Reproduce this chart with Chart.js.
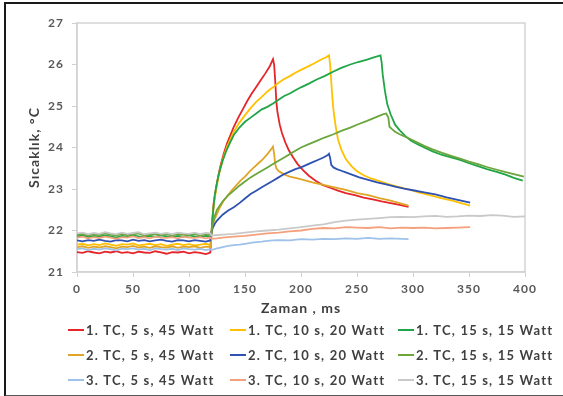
<!DOCTYPE html>
<html>
<head>
<meta charset="utf-8">
<script src="https://cdn.jsdelivr.net/npm/chart.js@4.4.1/dist/chart.umd.min.js"></script>
<style>
  html, body { margin: 0; padding: 0; background: #fff; overflow: hidden; }
  #wrap { position: relative; width: 563px; height: 396px; }
  #frame { position: absolute; left: 4px; top: 2px; width: 620px; height: 391px;
           border-left: 2px solid #1a1a1a; border-top: 2px solid #1a1a1a; border-bottom: 2px solid #555; pointer-events: none; }
</style>
</head>
<body>
<div id="wrap">
  <canvas id="c" width="563" height="396"></canvas>
  <div id="frame"></div>
</div>
<script>
// time base for the pre-heating baseline (ms)
const tBase = [0,5,10,15,20,25,30,35,40,45,50,55,60,65,70,75,80,85,90,95,100,105,110,115,119];

const labels = [
  "1. TC, 5 s, 45 Watt", "1. TC, 10 s, 20 Watt", "1. TC, 15 s, 15 Watt",
  "2. TC, 5 s, 45 Watt", "2. TC, 10 s, 20 Watt", "2. TC, 15 s, 15 Watt",
  "3. TC, 5 s, 45 Watt", "3. TC, 10 s, 20 Watt", "3. TC, 15 s, 15 Watt"
];
const colors = ["#e5252a", "#ffc000", "#21a546", "#e0a526", "#2e52b2", "#6aa63c", "#9ec2ea", "#f5a07c", "#c9c9c9"];

// 1. TC, 5 s, 45 W
const base1_5 = [21.48,21.46,21.5,21.47,21.45,21.49,21.47,21.5,21.46,21.48,21.45,21.49,21.47,21.46,21.5,21.47,21.44,21.48,21.47,21.49,21.45,21.48,21.46,21.43,21.47];
const t1_5 = [120,121,122,124,126,128,131,134,137,140,144,148,152,156,160,164,168,172,175,176,177,178,179,181,183,186,189,193,197,202,207,213,219,226,233,240,248,256,264,272,280,288,296];
const v1_5 = [21.9,22.3,22.65,23.0,23.3,23.55,23.85,24.1,24.3,24.5,24.72,24.92,25.12,25.3,25.46,25.62,25.78,25.95,26.13,26.0,25.6,25.1,24.85,24.55,24.35,24.12,23.94,23.76,23.6,23.45,23.32,23.2,23.1,23.03,22.96,22.9,22.85,22.79,22.75,22.7,22.66,22.62,22.57];

// 1. TC, 10 s, 20 W
const base1_10 = [21.66,21.68,21.64,21.67,21.65,21.69,21.66,21.63,21.67,21.66,21.69,21.64,21.66,21.68,21.65,21.67,21.63,21.66,21.68,21.65,21.67,21.64,21.66,21.68,21.65];
const t1_10 = [120,121,122,124,126,128,131,134,137,140,145,150,155,160,165,170,175,180,185,190,195,200,206,212,218,222,225,226,227,228,229,231,233,236,240,245,250,256,262,270,278,286,295,305,315,325,335,343,351];
const v1_10 = [21.9,22.3,22.6,22.95,23.25,23.5,23.78,24.02,24.2,24.38,24.6,24.78,24.95,25.1,25.22,25.35,25.45,25.56,25.65,25.72,25.8,25.87,25.95,26.03,26.12,26.17,26.22,26.0,25.6,25.2,24.9,24.5,24.2,23.95,23.72,23.55,23.43,23.33,23.26,23.19,23.12,23.06,23.0,22.92,22.85,22.78,22.72,22.66,22.6];

// 1. TC, 15 s, 15 W
const base1_15 = [21.86,21.88,21.84,21.87,21.85,21.88,21.86,21.83,21.87,21.85,21.88,21.86,21.84,21.87,21.85,21.88,21.86,21.84,21.87,21.85,21.88,21.86,21.84,21.87,21.86];
const t1_15 = [120,121,122,123,125,127,130,133,136,140,145,150,155,160,165,170,175,180,185,190,195,200,207,214,221,229,236,244,251,259,265,271,272,273,275,277,280,284,288,293,298,304,310,318,326,334,342,350,358,366,374,382,390,398];
const v1_15 = [21.9,22.3,22.6,22.85,23.15,23.4,23.68,23.9,24.08,24.3,24.48,24.62,24.72,24.82,24.92,24.98,25.06,25.15,25.24,25.3,25.38,25.45,25.54,25.64,25.72,25.83,25.92,26.0,26.06,26.12,26.17,26.22,26.05,25.75,25.35,25.05,24.8,24.55,24.42,24.28,24.17,24.08,24.0,23.9,23.82,23.76,23.7,23.62,23.55,23.48,23.42,23.35,23.27,23.2];

// 2. TC, 5 s, 45 W
const base2_5 = [21.6,21.62,21.58,21.61,21.59,21.62,21.6,21.57,21.61,21.6,21.63,21.59,21.61,21.58,21.62,21.6,21.59,21.62,21.58,21.61,21.6,21.62,21.58,21.61,21.6];
const t2_5 = [120,121,123,125,128,131,134,138,142,146,150,154,158,162,166,170,174,175,176,177,178,180,182,185,190,196,202,210,220,230,240,250,260,270,280,288,296];
const v2_5 = [21.9,22.1,22.28,22.4,22.58,22.72,22.82,22.96,23.08,23.2,23.3,23.42,23.52,23.62,23.72,23.84,23.98,24.02,23.85,23.6,23.5,23.43,23.4,23.35,23.3,23.26,23.22,23.16,23.1,23.04,22.98,22.9,22.85,22.78,22.72,22.66,22.6];

// 2. TC, 10 s, 20 W
const base2_10 = [21.76,21.74,21.77,21.75,21.78,21.75,21.73,21.77,21.76,21.74,21.78,21.75,21.77,21.74,21.76,21.78,21.75,21.73,21.77,21.76,21.74,21.77,21.75,21.73,21.76];
const t2_10 = [120,121,123,125,130,135,140,145,150,155,160,165,170,175,180,185,190,195,200,205,210,215,220,224,225,226,227,229,232,236,240,246,252,260,268,276,284,292,300,310,320,330,340,351];
const v2_10 = [21.95,22.05,22.16,22.24,22.38,22.48,22.56,22.66,22.77,22.88,22.96,23.04,23.12,23.2,23.28,23.36,23.42,23.48,23.52,23.58,23.64,23.7,23.76,23.82,23.85,23.75,23.58,23.52,23.48,23.44,23.4,23.34,23.28,23.22,23.16,23.11,23.06,23.01,22.97,22.92,22.87,22.8,22.74,22.67];

// 2. TC, 15 s, 15 W
const base2_15 = [21.9,21.92,21.88,21.91,21.89,21.93,21.9,21.88,21.92,21.89,21.91,21.93,21.88,21.9,21.92,21.89,21.91,21.88,21.92,21.9,21.89,21.92,21.88,21.91,21.9];
const t2_15 = [120,121,123,125,130,135,140,145,150,155,160,165,170,175,180,185,190,195,200,207,214,221,229,236,244,251,259,266,273,276,278,279,281,284,288,293,298,304,310,318,326,334,342,350,358,366,374,382,390,399];
const v2_15 = [21.92,22.15,22.35,22.5,22.7,22.85,22.96,23.08,23.18,23.28,23.36,23.44,23.52,23.6,23.68,23.76,23.84,23.92,24.0,24.08,24.16,24.24,24.32,24.4,24.48,24.56,24.64,24.72,24.8,24.82,24.72,24.5,24.45,24.38,24.32,24.26,24.2,24.12,24.04,23.95,23.87,23.8,23.73,23.66,23.6,23.53,23.47,23.41,23.36,23.3];

// 3. TC, 5 s, 45 W
const base3_5 = [21.55,21.57,21.53,21.56,21.54,21.57,21.55,21.52,21.56,21.55,21.57,21.54,21.56,21.53,21.57,21.55,21.54,21.56,21.53,21.57,21.55,21.54,21.56,21.53,21.55];
const t3_5 = [120,125,130,135,140,145,150,155,160,165,170,175,180,190,200,210,220,230,240,250,260,270,280,290,296];
const v3_5 = [21.53,21.57,21.6,21.63,21.65,21.66,21.68,21.7,21.72,21.73,21.75,21.76,21.77,21.76,21.79,21.78,21.8,21.79,21.81,21.8,21.82,21.8,21.81,21.8,21.79];

// 3. TC, 10 s, 20 W
const base3_10 = [21.83,21.85,21.81,21.84,21.82,21.85,21.83,21.8,21.84,21.83,21.86,21.82,21.84,21.81,21.85,21.83,21.82,21.84,21.81,21.85,21.83,21.82,21.84,21.81,21.83];
const t3_10 = [120,125,130,140,150,160,170,180,190,200,210,220,230,240,250,260,270,280,290,300,310,320,330,340,351];
const v3_10 = [21.8,21.81,21.83,21.85,21.87,21.9,21.93,21.95,21.98,22.0,22.04,22.06,22.05,22.08,22.07,22.06,22.08,22.05,22.07,22.06,22.07,22.05,22.06,22.07,22.08];

// 3. TC, 15 s, 15 W
const base3_15 = [21.93,21.95,21.91,21.94,21.92,21.96,21.93,21.91,21.95,21.92,21.94,21.96,21.91,21.93,21.95,21.92,21.94,21.91,21.95,21.93,21.92,21.95,21.91,21.94,21.93];
const t3_15 = [120,130,140,150,160,170,180,190,200,210,220,230,240,250,260,270,280,290,300,310,320,330,340,350,360,370,380,390,400];
const v3_15 = [21.88,21.9,21.92,21.95,21.98,22.0,22.02,22.05,22.08,22.12,22.15,22.2,22.24,22.26,22.28,22.3,22.32,22.33,22.32,22.34,22.35,22.33,22.34,22.36,22.35,22.37,22.36,22.33,22.34];

const seriesT = [t1_5, t1_10, t1_15, t2_5, t2_10, t2_15, t3_5, t3_10, t3_15];
const seriesBase = [base1_5, base1_10, base1_15, base2_5, base2_10, base2_15, base3_5, base3_10, base3_15];
const seriesV = [v1_5, v1_10, v1_15, v2_5, v2_10, v2_15, v3_5, v3_10, v3_15];

const xTicks = [0, 50, 100, 150, 200, 250, 300, 350, 400];
const yTicks = [21, 22, 23, 24, 25, 26, 27];

function toPoints(i) {
  const xs = tBase.concat(seriesT[i]);
  const ys = seriesBase[i].concat(seriesV[i]);
  return xs.map((x, k) => ({ x: x, y: ys[k] }));
}

const datasets = labels.map((lab, i) => ({
  label: lab,
  data: toPoints(i),
  borderColor: colors[i],
  backgroundColor: colors[i],
  borderWidth: 1.8,
  pointRadius: 0,
  tension: 0,
  order: 9 - i
}));

const FONT = "Lato, 'Noto Sans', sans-serif";

// plot frame around the chart area, plus a little letter spacing for all axis text
const frame = {
  id: "frame",
  beforeDraw(chart) {
    chart.ctx.letterSpacing = "1px";
  },
  beforeDatasetsDraw(chart) {
    const { ctx, chartArea: a } = chart;
    ctx.save();
    ctx.strokeStyle = "#d4d4d4";
    ctx.lineWidth = 1.5;
    ctx.strokeRect(a.left, a.top, a.right - a.left, a.bottom - a.top);
    ctx.restore();
  }
};

// 3 x 3 legend under the axis title
const legendCols = [68, 230, 398];
const legendRows = [330, 355, 380];
const legendTextWidth = 128; // width of "1. TC, 5 s, 45 Watt" in the reference
const gridLegend = {
  id: "gridLegend",
  afterDraw(chart) {
    const ctx = chart.ctx;
    ctx.save();
    ctx.font = "bold 13px " + FONT;
    ctx.letterSpacing = "0px";
    const w = ctx.measureText(labels[0]).width;
    ctx.letterSpacing = Math.max(0, (legendTextWidth - w) / labels[0].length).toFixed(2) + "px";
    ctx.textBaseline = "middle";
    chart.data.datasets.forEach((ds, i) => {
      const x = legendCols[i % 3];
      const y = legendRows[Math.floor(i / 3)];
      ctx.strokeStyle = ds.borderColor;
      ctx.lineWidth = 2;
      ctx.beginPath();
      ctx.moveTo(x, y);
      ctx.lineTo(x + 16, y);
      ctx.stroke();
      ctx.fillStyle = "#404040";
      ctx.fillText(ds.label, x + 18, y + 1);
    });
    ctx.restore();
  }
};

new Chart(document.getElementById("c"), {
  type: "line",
  data: { datasets: datasets },
  plugins: [frame, gridLegend],
  options: {
    responsive: false,
    animation: false,
    layout: { padding: { left: 0, right: 38, top: 23, bottom: 78 } },
    plugins: { legend: { display: false }, tooltip: { enabled: false } },
    scales: {
      x: {
        type: "linear",
        min: 0, max: 400,
        afterBuildTicks: s => { s.ticks = xTicks.map(v => ({ value: v })); },
        afterFit: s => { s.height = 46; },
        grid: { drawOnChartArea: false, drawTicks: true, tickLength: 5, color: "#d0d0d0" },
        border: { color: "#d0d0d0", width: 1.5 },
        ticks: { padding: 5, color: "#595959", font: { family: FONT, size: 12, weight: "bold" }, maxRotation: 0 },
        title: { display: true, text: "Zaman , ms", color: "#404040", padding: { top: 0, bottom: 1 },
                 font: { family: FONT, size: 14, weight: "bold" } }
      },
      y: {
        min: 21, max: 27,
        afterBuildTicks: s => { s.ticks = yTicks.map(v => ({ value: v })); },
        afterFit: s => { s.width = 77; },
        grid: { drawOnChartArea: false, drawTicks: true, tickLength: 5, color: "#d0d0d0" },
        border: { color: "#d0d0d0", width: 1.5 },
        ticks: { padding: 8, color: "#595959", font: { family: FONT, size: 12, weight: "bold" } },
        title: { display: true, text: "Sıcaklık, °C", color: "#404040", padding: { top: 26, bottom: 0 },
                 font: { family: FONT, size: 14, weight: "bold" } }
      }
    }
  }
});
</script>
</body>
</html>
